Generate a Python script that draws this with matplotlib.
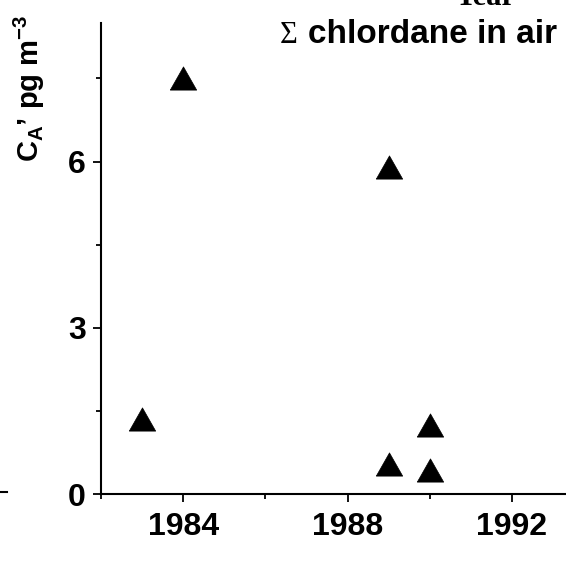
import matplotlib
matplotlib.use("Agg")
import matplotlib.pyplot as plt
from matplotlib.lines import Line2D
from matplotlib.ticker import MultipleLocator

# sum of chlordanes in air, one point per sampling year
years = [1983, 1984, 1989, 1989, 1990, 1990]
conc = [1.35, 7.5, 5.9, 0.55, 1.24, 0.44]

x_ticks = [1984, 1988, 1992]
y_ticks = [0, 3, 6]

plt.rcParams["mathtext.fontset"] = "custom"
plt.rcParams["mathtext.rm"] = "Liberation Sans:bold"
plt.rcParams["mathtext.bf"] = "Liberation Sans:bold"
plt.rcParams["mathtext.it"] = "Liberation Sans:bold"
plt.rcParams["mathtext.default"] = "bf"

W, H = 566, 584
fig = plt.figure(figsize=(W / 100, H / 100), dpi=100)

# axes placed in pixel terms; the right side runs past the canvas
left, bottom = 101, H - 494
ax = fig.add_axes([left / W, bottom / H, 493 / W, 471 / H])

# slightly flattened triangle marker
tri = [(-1.0, -0.88), (1.0, -0.88), (0.0, 0.88), (-1.0, -0.88)]
ax.plot(years, conc, linestyle="none", marker=tri, markersize=19,
        color="black", markeredgewidth=0.5)

ax.set_xlim(1982, 1994)
ax.set_ylim(0, 8.5)
ax.set_xticks(x_ticks)
ax.set_yticks(y_ticks)
ax.xaxis.set_minor_locator(MultipleLocator(2))
ax.yaxis.set_minor_locator(MultipleLocator(1.5))

for side in ("top", "right"):
    ax.spines[side].set_visible(False)
for side in ("left", "bottom"):
    ax.spines[side].set_linewidth(1.5)

ax.tick_params(which="major", direction="out", length=6, width=1.3)
ax.tick_params(which="minor", direction="out", length=3.5, width=1.3)
ax.tick_params(axis="x", which="major", pad=7)
ax.tick_params(axis="y", which="major", pad=5)
for lab in ax.get_xticklabels() + ax.get_yticklabels():
    lab.set_fontfamily("Liberation Sans")
    lab.set_fontweight("bold")
    lab.set_fontsize(23)

# y label sits high on the left edge
fig.text(29 / W, 1 - 88 / H, "C$_{A}$\u2019 pg m$^{-3}$",
         rotation=90, ha="center", va="center",
         family="Liberation Sans", weight="bold", fontsize=21)

# title lines
fig.text(485 / W, 1 - 5 / H, "Year", ha="center", va="baseline",
         family="Liberation Serif", weight="bold", fontsize=22)
fig.text(280 / W, 1 - 43 / H, "\u03a3", ha="left", va="baseline",
         family="Liberation Serif", fontsize=22)
fig.text(557 / W, 1 - 43 / H, "chlordane in air", ha="right", va="baseline",
         family="Liberation Sans", weight="bold", fontsize=24)

# stub of the neighbouring panel's axis at the far left
fig.add_artist(Line2D([0, 7 / W], [1 - 492 / H, 1 - 492 / H],
                      transform=fig.transFigure, color="black", linewidth=1.5))

fig.savefig("out.png", dpi=100)
